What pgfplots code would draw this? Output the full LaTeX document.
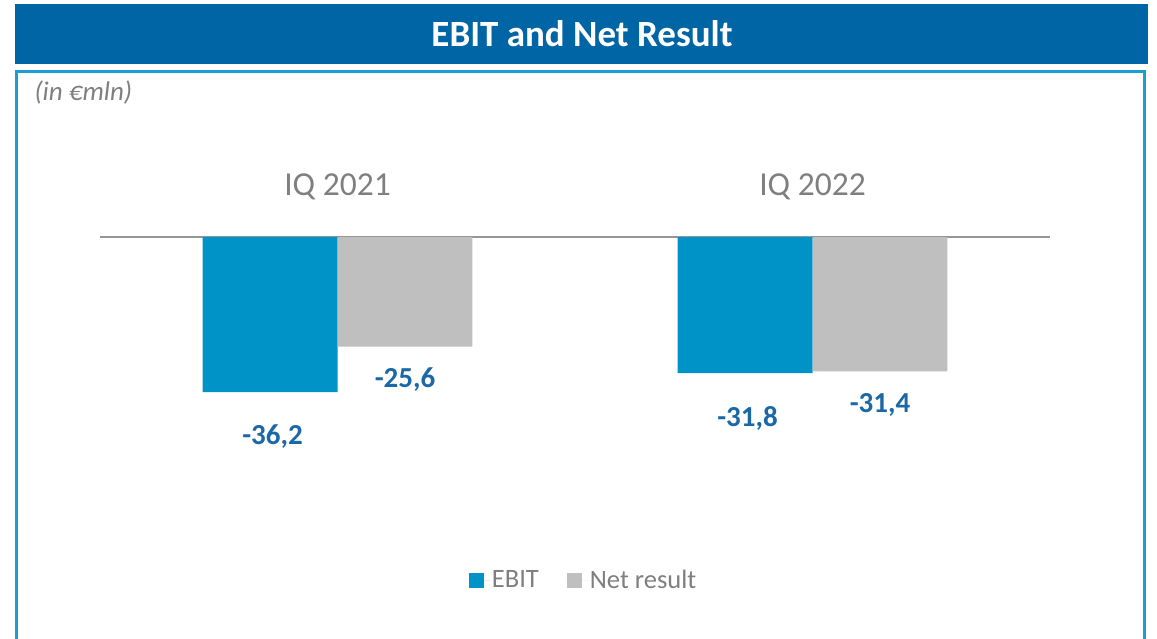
\documentclass[border=0pt]{standalone}
\usepackage{pgfplots}
\pgfplotsset{compat=1.18}
\usepackage{fontspec}
\setmainfont{Carlito}
\definecolor{banner}{HTML}{0065A4}
\definecolor{frame}{HTML}{1A9DD0}
\definecolor{ebit}{HTML}{0093C8}
\definecolor{netres}{HTML}{BFBFBF}
\definecolor{lbl}{HTML}{1B68A6}
\definecolor{txt}{HTML}{7F7F7F}
\definecolor{zero}{HTML}{969696}

\begin{document}
\begin{tikzpicture}[x=1pt,y=1pt]
  \path[use as bounding box] (0,0) rectangle (1157,638);
  % title banner
  \fill[banner] (15,574) rectangle (1148,634);
  \node[text=white, font=\fontsize{37}{40}\selectfont\bfseries] at (582,604) {EBIT and Net Result};
  % frame
  \draw[frame, line width=3pt] (16.5,-5) -- (16.5,566.5) -- (1144.5,566.5) -- (1144.5,-5);
  \node[anchor=west, text=txt, font=\fontsize{27}{30}\selectfont\itshape] at (31,545) {(in €mln)};

  \begin{axis}[
      at={(100pt,186.9pt)}, anchor=south west,
      scale only axis, width=950pt, height=278.3pt,
      xmin=-0.5, xmax=1.5, ymin=-50, ymax=15,
      axis lines=none, clip=false,
      /pgf/number format/assume math mode=true,
      legend style={at={(0.509,-0.464)}, anchor=center, draw=none,
        font=\fontsize{26.5}{30}\selectfont, text=txt,
        legend columns=2,
        /tikz/every even column/.append style={column sep=26pt}},
      legend image code/.code={\fill[#1] (0pt,-7.5pt) rectangle (15pt,7.5pt); \path (0pt,0pt) -- (21pt,0pt);},
    ]
    \draw[zero, line width=1.5pt] (axis cs:-0.5,0) -- (axis cs:1.5,0);

    \addplot[ybar, bar width=0.284, bar shift=-0.142, fill=ebit, draw=none,
      nodes near coords={\pgfmathprintnumber[fixed, precision=1, fixed zerofill, use comma]{\pgfplotspointmeta}},
      every node near coord/.append style={anchor=center, xshift=-65pt, yshift=-45pt, text=lbl,
        font=\fontsize{29}{32}\selectfont\bfseries}]
      coordinates {(0,-36.2) (1,-31.8)};
    \addlegendentry{EBIT}

    \addplot[ybar, bar width=0.284, bar shift=0.142, fill=netres, draw=none,
      nodes near coords={\pgfmathprintnumber[fixed, precision=1, fixed zerofill, use comma]{\pgfplotspointmeta}},
      every node near coord/.append style={anchor=center, xshift=67.5pt, yshift=-33pt, text=lbl,
        font=\fontsize{29}{32}\selectfont\bfseries}]
      coordinates {(0,-25.6) (1,-31.4)};
    \addlegendentry{Net result}

    \node[text=txt, font=\fontsize{33.5}{36}\selectfont] at (axis cs:0,11.68) {IQ 2021};
    \node[text=txt, font=\fontsize{33.5}{36}\selectfont] at (axis cs:1,11.68) {IQ 2022};
  \end{axis}
\end{tikzpicture}
\end{document}
